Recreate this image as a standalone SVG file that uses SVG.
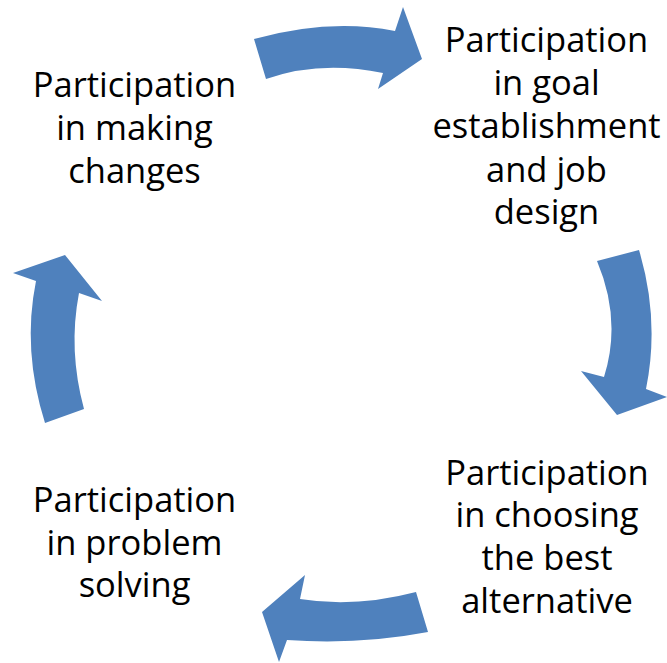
<svg xmlns="http://www.w3.org/2000/svg" width="667" height="663" viewBox="0 0 667 663">
  <style>
    .arrow { fill: #4F81BD; }
    .label { font-family: "Open Sans", "Liberation Sans", sans-serif; font-size: 34.5px; fill: #000000; text-anchor: middle; }
  </style>
  <rect width="667" height="663" fill="#FFFFFF"/>

  <!-- curved cycle arrows -->
  <g id="connectors">
    <path class="arrow" d="M254,39 Q330,18 395,31 L403,7 L422,59 L378,89 L383,73 Q320,60 266,79 Z"/>
    <path class="arrow" d="M639,250 Q660,320 646,389 L667,397 L617,415 L581,371 L604,377 Q622,320 597,261 Z"/>
    <path class="arrow" d="M416,592 Q355,608 300,599 L305,575 L262,612 L279,662 L287,640 Q360,645 428,632 Z"/>
    <path class="arrow" d="M45,423 Q22,350 36,281 L13,273 L65,255 L102,301 L79,293 Q68,350 84,409 Z"/>
  </g>

  <g id="node-goal">
    <text class="label" x="546.5" y="52">Participation</text>
    <text class="label" x="546.5" y="95">in goal</text>
    <text class="label" x="546.5" y="138">establishment</text>
    <text class="label" x="546.5" y="182">and job</text>
    <text class="label" x="546.5" y="224">design</text>
  </g>

  <g id="node-choosing">
    <text class="label" x="547" y="485">Participation</text>
    <text class="label" x="547" y="527">in choosing</text>
    <text class="label" x="547" y="570">the best</text>
    <text class="label" x="547" y="613">alternative</text>
  </g>

  <g id="node-problem">
    <text class="label" x="134.5" y="512">Participation</text>
    <text class="label" x="134.5" y="555">in problem</text>
    <text class="label" x="134.5" y="597">solving</text>
  </g>

  <g id="node-changes">
    <text class="label" x="134.5" y="97">Participation</text>
    <text class="label" x="134.5" y="140">in making</text>
    <text class="label" x="134.5" y="183">changes</text>
  </g>
</svg>
